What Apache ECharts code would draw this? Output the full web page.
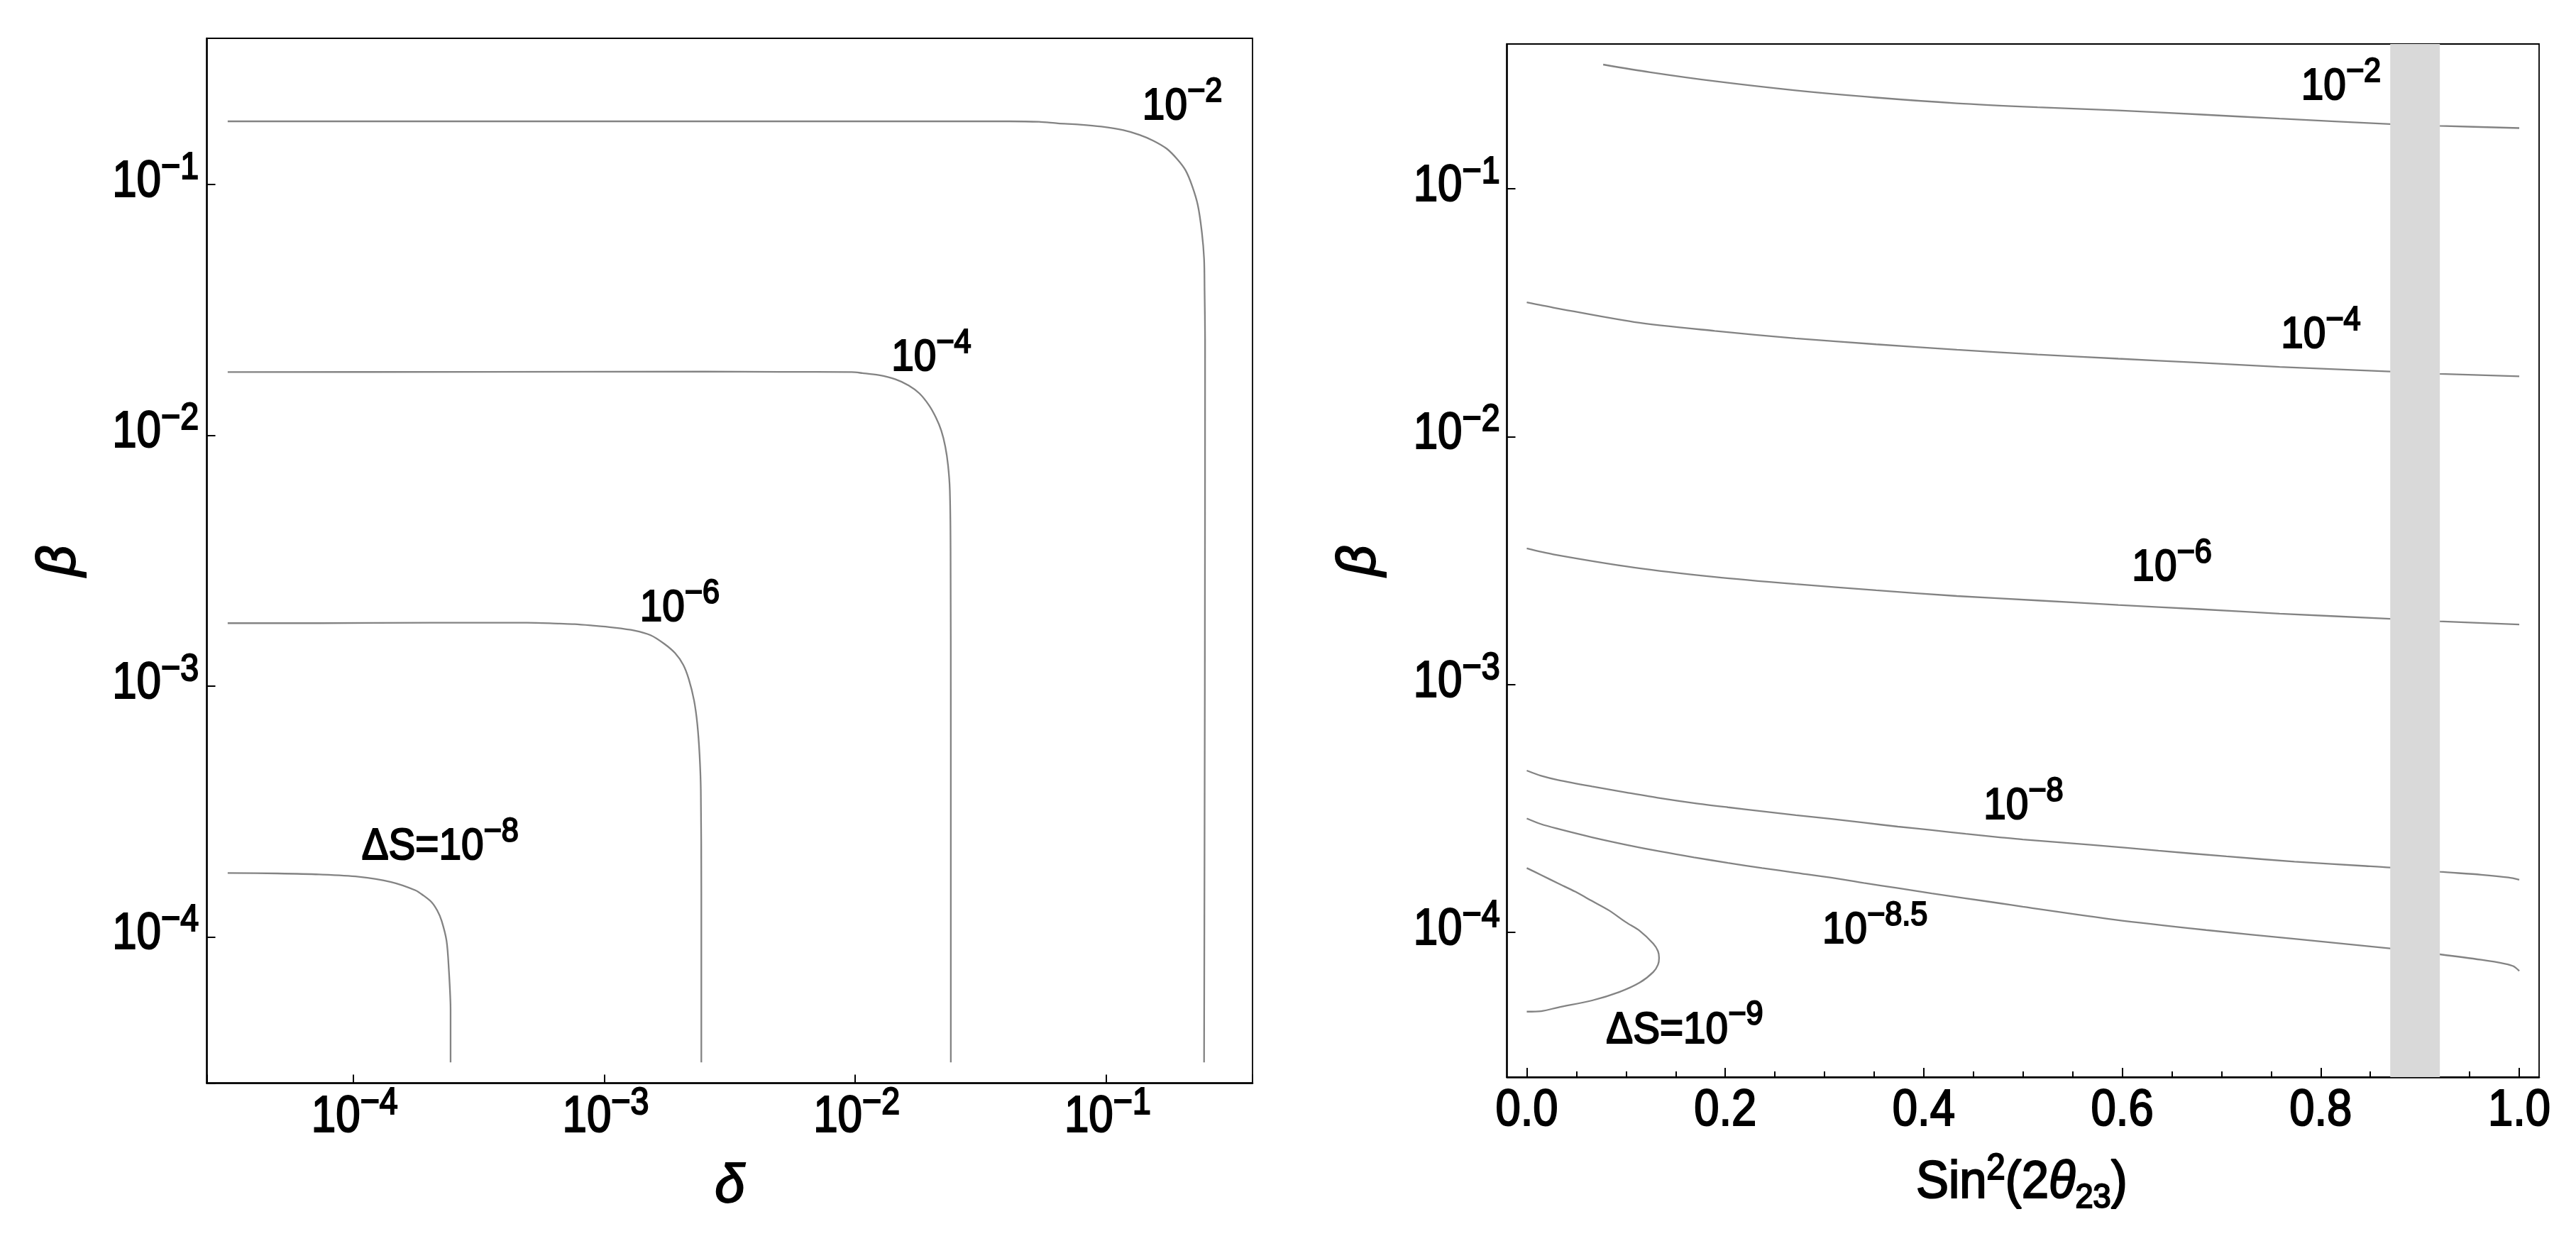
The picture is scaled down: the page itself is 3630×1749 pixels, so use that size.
<!DOCTYPE html>
<html>
<head>
<meta charset="utf-8">
<script src="https://cdn.jsdelivr.net/npm/echarts@6.0.0/dist/echarts.min.js"></script>
<style>
html,body{margin:0;padding:0;background:#fff;}
#c{width:3630px;height:1749px;}
</style>
</head>
<body>
<div id="c"></div>
<script>
// ================= DATA =================
// Axis ranges (log10 exponents for the log axes)
const logAxisMinExp = -4.583;
const logAxisMaxExp = -0.417;
const rightXRange = [-0.02, 1.02];

// Tick values
const logTickExponents = [-4, -3, -2, -1];
const rightXMajorTicks = [0, 0.2, 0.4, 0.6, 0.8, 1.0];
const rightXMinorTicks = [0.05, 0.1, 0.15, 0.25, 0.3, 0.35, 0.45, 0.5, 0.55, 0.65, 0.7, 0.75, 0.85, 0.9, 0.95];

// ---- Left panel: contours of ΔS in the (δ, β) plane, stored as log10 values ----
const left_e2_logDelta = [-4.5, -3.5, -2.5, -1.387, -1.268, -1.192, -1.105, -1.019, -0.932, -0.867, -0.813, -0.759, -0.716, -0.684, -0.657, -0.635, -0.619, -0.610, -0.608, -0.606, -0.607, -0.610];
const left_e2_logBeta  = [-0.748, -0.748, -0.748, -0.748, -0.750, -0.756, -0.761, -0.769, -0.783, -0.802, -0.825, -0.857, -0.900, -0.943, -1.007, -1.082, -1.189, -1.296, -1.425, -1.617, -3.0, -4.5];

const left_e4_logDelta = [-4.5, -3.5, -2.6, -2.3, -2.014, -1.971, -1.906, -1.841, -1.787, -1.744, -1.706, -1.679, -1.657, -1.641, -1.630, -1.623, -1.620, -1.619, -1.619];
const left_e4_logBeta  = [-1.748, -1.747, -1.746, -1.747, -1.748, -1.752, -1.760, -1.776, -1.801, -1.833, -1.880, -1.928, -1.981, -2.045, -2.120, -2.217, -2.45, -3.2, -4.5];

const left_e6_logDelta = [-4.5, -4.135, -3.686, -3.307, -3.177, -3.118, -3.053, -2.966, -2.880, -2.815, -2.761, -2.718, -2.685, -2.663, -2.642, -2.629, -2.620, -2.615, -2.613, -2.613];
const left_e6_logBeta  = [-2.749, -2.749, -2.747, -2.747, -2.751, -2.753, -2.758, -2.766, -2.778, -2.797, -2.831, -2.868, -2.915, -2.972, -3.057, -3.151, -3.274, -3.415, -3.831, -4.5];

const left_e8_logDelta = [-4.5, -4.30, -4.135, -3.979, -3.849, -3.752, -3.72, -3.687, -3.665, -3.648, -3.628, -3.619, -3.612, -3.612];
const left_e8_logBeta  = [-3.745, -3.747, -3.751, -3.760, -3.781, -3.814, -3.835, -3.862, -3.895, -3.935, -4.016, -4.129, -4.292, -4.5];

// ---- Right panel: contours of ΔS in the (Sin²(2θ23), β) plane; β stored as log10 ----
const right_e2_x       = [0.077, 0.1244, 0.1894, 0.2707, 0.352, 0.4333, 0.5146, 0.596, 0.6772, 0.7585, 0.870, 0.9195, 1.0];
const right_e2_logBeta = [-0.5, -0.531, -0.567, -0.604, -0.633, -0.656, -0.672, -0.685, -0.701, -0.718, -0.740, -0.747, -0.756];

const right_e4_x       = [0, 0.0268, 0.1081, 0.1894, 0.2707, 0.352, 0.4333, 0.5146, 0.596, 0.6772, 0.7585, 0.870, 0.9195, 1.0];
const right_e4_logBeta = [-1.459, -1.480, -1.538, -1.574, -1.604, -1.628, -1.650, -1.669, -1.686, -1.702, -1.719, -1.738, -1.747, -1.757];

const right_e6_x       = [0, 0.0268, 0.1081, 0.1894, 0.2707, 0.352, 0.4333, 0.5146, 0.596, 0.6772, 0.7585, 0.870, 0.9195, 1.0];
const right_e6_logBeta = [-2.451, -2.475, -2.528, -2.566, -2.595, -2.620, -2.643, -2.661, -2.679, -2.696, -2.714, -2.735, -2.745, -2.758];

const right_e8_x       = [0, 0.0145, 0.0316, 0.0658, 0.1001, 0.1343, 0.1685, 0.2027, 0.237, 0.2712, 0.3054, 0.3396, 0.3739, 0.4081, 0.4423, 0.4765, 0.4998, 0.5681, 0.6365, 0.705, 0.7735, 0.842, 0.8696, 0.920, 0.9617, 0.989, 1.0];
const right_e8_logBeta = [-3.347, -3.368, -3.385, -3.411, -3.435, -3.458, -3.478, -3.495, -3.511, -3.527, -3.541, -3.557, -3.573, -3.587, -3.602, -3.616, -3.625, -3.646, -3.670, -3.693, -3.714, -3.731, -3.738, -3.755, -3.767, -3.778, -3.787];

const right_e85_x       = [0, 0.0145, 0.0316, 0.0658, 0.1001, 0.1343, 0.1685, 0.2027, 0.237, 0.2712, 0.3054, 0.3396, 0.3739, 0.4081, 0.4423, 0.4765, 0.4998, 0.592, 0.6845, 0.7769, 0.8696, 0.920, 0.9617, 0.9857, 0.9942, 1.0];
const right_e85_logBeta = [-3.540, -3.563, -3.582, -3.616, -3.646, -3.673, -3.697, -3.719, -3.740, -3.759, -3.778, -3.800, -3.821, -3.842, -3.862, -3.882, -3.896, -3.948, -3.990, -4.027, -4.064, -4.088, -4.110, -4.126, -4.136, -4.155];

const right_e9_x       = [0, 0.0145, 0.0316, 0.0487, 0.0658, 0.0829, 0.1001, 0.1138, 0.1275, 0.1322, 0.1333, 0.1322, 0.1275, 0.1138, 0.0932, 0.0658, 0.0316, 0.0145, 0];
const right_e9_logBeta = [-3.740, -3.768, -3.802, -3.835, -3.873, -3.911, -3.959, -3.993, -4.045, -4.075, -4.102, -4.130, -4.159, -4.202, -4.240, -4.274, -4.302, -4.317, -4.319];

// Shaded band on the right panel (Sin²(2θ23) range)
const bandRange = [0.87, 0.92];

// Contour-label texts and their anchor points (in data units)
const leftLabelTexts  = ['{b|10}{s|\u22122}', '{b|10}{s|\u22124}', '{b|10}{s|\u22126}', '{b|\u0394S=10}{s|\u22128}'];
const leftLabelAnchors = [[0.201, 0.205], [0.0201, 0.0204], [0.0020, 0.00205], [0.000222, 0.000230]];
const rightLabelTexts = ['{b|10}{s|\u22122}', '{b|10}{s|\u22124}', '{b|10}{s|\u22126}', '{b|10}{s|\u22128}', '{b|10}{s|\u22128.5}', '{b|\u0394S=10}{s|\u22129}'];
const rightLabelAnchors = [[0.8205, 0.258], [0.800, 0.0257], [0.650, 0.00296], [0.5004, 0.000324], [0.3508, 0.000102], [0.159, 0.0000405]];

// ================= STYLE =================
const FONT = "'Liberation Sans', Arial, sans-serif";
const NARROW = 0.86;          // horizontal squeeze to mimic the condensed face
const INK = 2.2;              // stroke to mimic the heavier glyphs
const LINE_COLOR = '#838383';
const pw = e => Math.pow(10, e);
const toPairsLog = (xs, ys) => xs.map((x, i) => [pw(x), pw(ys[i])]);
const toPairsLin = (xs, ys) => xs.map((x, i) => [x, pw(ys[i])]);

function tok(size, extra) {
  return Object.assign({ fontSize: size, fontFamily: FONT, fill: '#000', stroke: '#000', lineWidth: INK }, extra || {});
}
const tickRich = { b: tok(72), s: tok(54, { padding: [0, 0, 40, 0] }) };
const lblRich  = { b: tok(63), s: tok(48, { padding: [0, 0, 42, 0] }) };
const titleRich = {
  n: tok(75), it: tok(75, { fontStyle: 'italic' }),
  sup: tok(51, { padding: [0, 0, 39, 0] }),
  sub: tok(49, { padding: [43, 0, 0, 0] })
};
function powText(e) { return '{b|10}{s|' + (e < 0 ? '\u2212' : '') + Math.abs(e) + '}'; }

const axisLineStyle = { color: '#000', width: 2.5 };
const tickLineStyle = { color: '#000', width: 2 };

function logAxis(gridIndex, extra) {
  return Object.assign({
    type: 'log', logBase: 10, gridIndex: gridIndex,
    min: pw(logAxisMinExp), max: pw(logAxisMaxExp),
    axisLine: { show: true, onZero: false, lineStyle: axisLineStyle },
    axisTick: { show: true, inside: true, length: 12, lineStyle: tickLineStyle },
    minorTick: { show: false },
    splitLine: { show: false },
    axisLabel: { show: false }
  }, extra);
}
function lineSeries(name, data, xi, yi) {
  return {
    name: name, type: 'line', xAxisIndex: xi, yAxisIndex: yi, data: data,
    showSymbol: false, symbol: 'none', smooth: 0.3, clip: true, z: 2,
    lineStyle: { color: LINE_COLOR, width: 2.3 }, silent: true, animation: false
  };
}
const greekName = { fontSize: 76, fontStyle: 'italic', fontFamily: FONT, color: '#000', textBorderColor: '#000', textBorderWidth: 2 };

const option = {
  animation: false,
  backgroundColor: '#fff',
  grid: [
    { left: 291.5, top: 54, width: 1473.5, height: 1472.5, show: true, borderColor: '#000', borderWidth: 1.8, backgroundColor: 'transparent', containLabel: false, outerBoundsMode: 'none' },
    { left: 2123.5, top: 62, width: 1454.5, height: 1456, show: true, borderColor: '#000', borderWidth: 1.8, backgroundColor: 'transparent', containLabel: false, outerBoundsMode: 'none' }
  ],
  xAxis: [
    logAxis(0, { position: 'bottom', name: '\u03B4', nameLocation: 'middle', nameGap: 108, nameTextStyle: greekName }),
    {
      type: 'value', gridIndex: 1, position: 'bottom', min: rightXRange[0], max: rightXRange[1],
      axisLine: { show: true, onZero: false, lineStyle: axisLineStyle },
      axisTick: { show: true, inside: true, length: 13, lineStyle: tickLineStyle, customValues: rightXMajorTicks },
      splitLine: { show: false },
      axisLabel: { show: false }
    },
    {
      type: 'value', gridIndex: 1, position: 'bottom', offset: 0, min: rightXRange[0], max: rightXRange[1],
      axisLine: { show: false },
      axisTick: { show: true, inside: true, length: 8, lineStyle: tickLineStyle, customValues: rightXMinorTicks },
      axisLabel: { show: false },
      splitLine: { show: false }
    }
  ],
  yAxis: [
    logAxis(0, { position: 'left', name: '\u03B2', nameLocation: 'middle', nameGap: 170, nameRotate: 90, nameTextStyle: greekName }),
    logAxis(1, { position: 'left', name: '\u03B2', nameLocation: 'middle', nameGap: 170, nameRotate: 90, nameTextStyle: greekName })
  ],
  series: [
    lineSeries('L ΔS=1e-2', toPairsLog(left_e2_logDelta, left_e2_logBeta), 0, 0),
    lineSeries('L ΔS=1e-4', toPairsLog(left_e4_logDelta, left_e4_logBeta), 0, 0),
    lineSeries('L ΔS=1e-6', toPairsLog(left_e6_logDelta, left_e6_logBeta), 0, 0),
    lineSeries('L ΔS=1e-8', toPairsLog(left_e8_logDelta, left_e8_logBeta), 0, 0),
    lineSeries('R ΔS=1e-2', toPairsLin(right_e2_x, right_e2_logBeta), 1, 1),
    lineSeries('R ΔS=1e-4', toPairsLin(right_e4_x, right_e4_logBeta), 1, 1),
    lineSeries('R ΔS=1e-6', toPairsLin(right_e6_x, right_e6_logBeta), 1, 1),
    lineSeries('R ΔS=1e-8', toPairsLin(right_e8_x, right_e8_logBeta), 1, 1),
    lineSeries('R ΔS=1e-8.5', toPairsLin(right_e85_x, right_e85_logBeta), 1, 1),
    lineSeries('R ΔS=1e-9', toPairsLin(right_e9_x, right_e9_logBeta), 1, 1),
    {
      type: 'custom', xAxisIndex: 1, yAxisIndex: 1, z: 10, silent: true,
      data: [[bandRange[0], bandRange[1]]],
      encode: { x: [0, 1] },
      renderItem: function (params, api) {
        const cs = params.coordSys;
        const x0 = api.coord([api.value(0), 0.01])[0];
        const x1 = api.coord([api.value(1), 0.01])[0];
        return { type: 'rect', shape: { x: x0, y: cs.y, width: x1 - x0, height: cs.height }, style: { fill: '#d9d9d9' } };
      }
    }
  ]
};

const chart = echarts.init(document.getElementById('c'), null, { renderer: 'canvas', width: 3630, height: 1749 });
chart.setOption(option);

// ---------- text drawn as (horizontally condensed) text elements, positioned through the axes ----------
function txt(x, y, text, rich, align, vAlign, sx) {
  return {
    type: 'text', x: x, y: y, scaleX: sx || NARROW, scaleY: 1, z: 50, silent: true,
    style: { text: text, rich: rich, x: 0, y: 0, align: align, verticalAlign: vAlign, textAlign: align, textVerticalAlign: vAlign, fill: '#000' }
  };
}
const L = { xAxisIndex: 0, yAxisIndex: 0 };
const R = { xAxisIndex: 1, yAxisIndex: 1 };
const gfx = [];
const leftAxisX = chart.convertToPixel(L, [pw(logAxisMinExp), 1e-2])[0];
const leftAxisY = chart.convertToPixel(L, [1e-2, pw(logAxisMinExp)])[1];
const rightAxisX = chart.convertToPixel(R, [rightXRange[0], 1e-2])[0];
const rightAxisY = chart.convertToPixel(R, [0.5, pw(logAxisMinExp)])[1];

logTickExponents.forEach(e => {
  // left panel y ticks
  const py = chart.convertToPixel(L, [1e-2, pw(e)])[1];
  gfx.push(txt(leftAxisX - 11.5, py - 3, powText(e), tickRich, 'right', 'middle'));
  // left panel x ticks
  const px = chart.convertToPixel(L, [pw(e), 1e-2])[0];
  gfx.push(txt(px + 2, leftAxisY + 48.5, powText(e), tickRich, 'center', 'middle'));
  // right panel y ticks
  const ry = chart.convertToPixel(R, [0.5, pw(e)])[1];
  gfx.push(txt(rightAxisX - 10, ry - 3, powText(e), tickRich, 'right', 'middle'));
});
rightXMajorTicks.forEach(v => {
  const px = chart.convertToPixel(R, [v, 1e-2])[0];
  gfx.push(txt(px, rightAxisY + 48, '{b|' + v.toFixed(1) + '}', tickRich, 'center', 'middle', 0.88));
});
leftLabelAnchors.forEach((p, i) => {
  const c = chart.convertToPixel(L, p);
  gfx.push(txt(c[0], c[1] + 0.8, leftLabelTexts[i], lblRich, 'center', 'middle', 0.9));
});
rightLabelAnchors.forEach((p, i) => {
  const c = chart.convertToPixel(R, p);
  gfx.push(txt(c[0], c[1] + 0.8, rightLabelTexts[i], lblRich, 'center', 'middle', 0.9));
});
// x-axis title of the right panel
const rightMidX = (chart.convertToPixel(R, [rightXRange[0], 1e-2])[0] + chart.convertToPixel(R, [rightXRange[1], 1e-2])[0]) / 2;
gfx.push(txt(rightMidX - 2, rightAxisY + 149, '{n|Sin}{sup|2}{n|(2}{it|\u03B8}{sub|23}{n|)}', titleRich, 'center', 'middle', 0.92));

chart.setOption({ graphic: { elements: gfx } });
</script>
</body>
</html>
